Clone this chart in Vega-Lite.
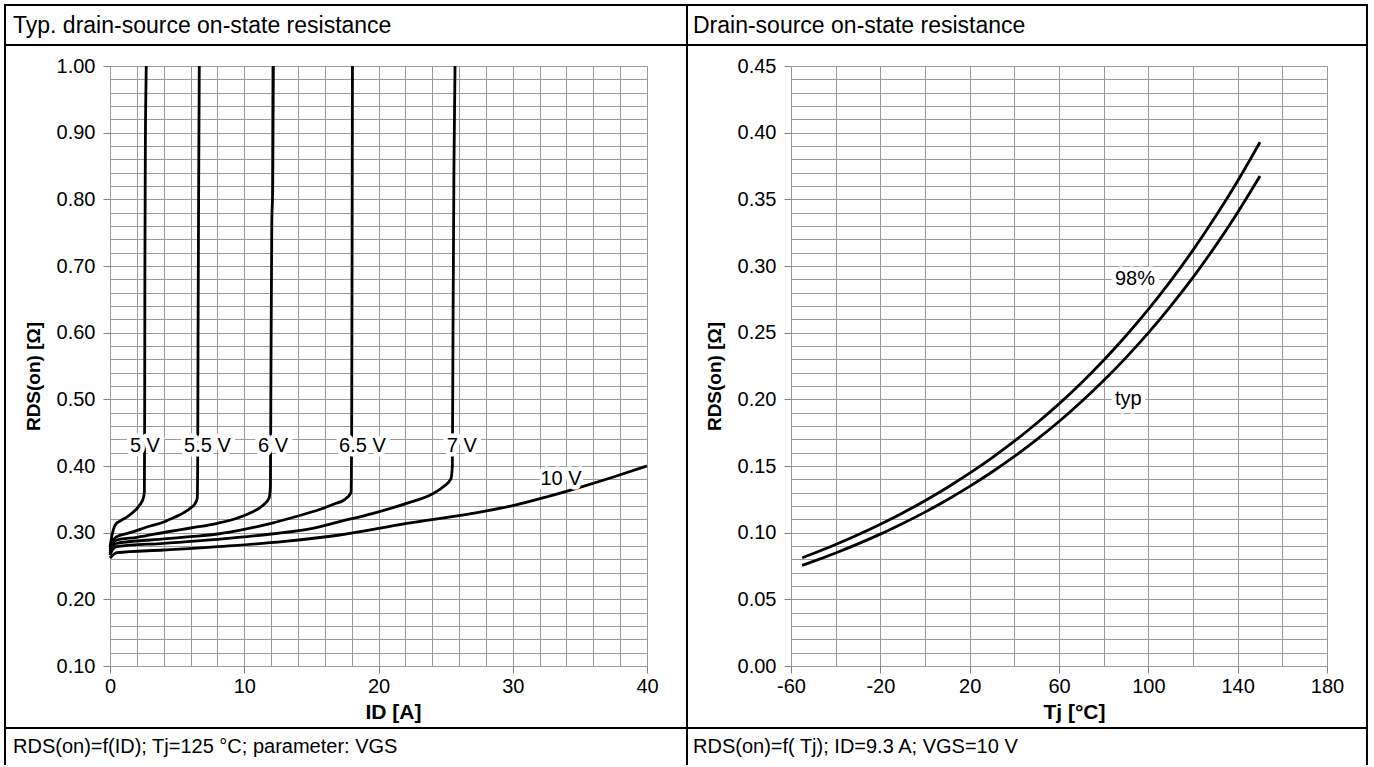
{
  "$schema": "https://vega.github.io/schema/vega-lite/v6.json",
  "background": "white",
  "padding": {"left": 3, "top": 3, "right": 0, "bottom": 0},
  "bounds": "flush",
  "spacing": 144,
  "config": {
    "view": {"stroke": null},
    "font": "Liberation Sans",
    "axis": {"labelFont": "Liberation Sans", "titleFont": "Liberation Sans", "labelColor": "black", "titleColor": "black", "gridColor": "#9a9a9a", "gridWidth": 1, "gridOpacity": 1, "tickColor": "#808080", "tickWidth": 1, "domain": false, "labelFontSize": 20, "titleFontSize": 21, "titleFontWeight": "bold", "labelOverlap": false, "labelFlush": false, "tickCount": 200}
  },
  "datasets": {
    "one": [{}],
    "idcurves": [
      {"s": "5 V", "o": 1, "id": 0, "r": 0.278}, {"s": "5 V", "o": 2, "id": 0.15, "r": 0.296}, {"s": "5 V", "o": 3, "id": 0.4, "r": 0.312}, {"s": "5 V", "o": 4, "id": 0.8, "r": 0.318}, {"s": "5 V", "o": 5, "id": 1.3, "r": 0.324}, {"s": "5 V", "o": 6, "id": 1.8, "r": 0.332}, {"s": "5 V", "o": 7, "id": 2.2, "r": 0.341}, {"s": "5 V", "o": 8, "id": 2.5, "r": 0.353}, {"s": "5 V", "o": 9, "id": 2.56, "r": 0.362}, {"s": "5 V", "o": 10, "id": 2.58, "r": 0.45}, {"s": "5 V", "o": 11, "id": 2.6, "r": 0.7}, {"s": "5 V", "o": 12, "id": 2.64, "r": 0.9}, {"s": "5 V", "o": 13, "id": 2.68, "r": 0.97}, {"s": "5 V", "o": 14, "id": 2.7, "r": 1.0},
      {"s": "5.5 V", "o": 1, "id": 0, "r": 0.275}, {"s": "5.5 V", "o": 2, "id": 0.2, "r": 0.287}, {"s": "5.5 V", "o": 3, "id": 0.5, "r": 0.294}, {"s": "5.5 V", "o": 4, "id": 1.5, "r": 0.3}, {"s": "5.5 V", "o": 5, "id": 3.0, "r": 0.31}, {"s": "5.5 V", "o": 6, "id": 4.0, "r": 0.316}, {"s": "5.5 V", "o": 7, "id": 4.8, "r": 0.323}, {"s": "5.5 V", "o": 8, "id": 5.5, "r": 0.33}, {"s": "5.5 V", "o": 9, "id": 6.0, "r": 0.337}, {"s": "5.5 V", "o": 10, "id": 6.35, "r": 0.344}, {"s": "5.5 V", "o": 11, "id": 6.5, "r": 0.352}, {"s": "5.5 V", "o": 12, "id": 6.53, "r": 0.4}, {"s": "5.5 V", "o": 13, "id": 6.56, "r": 0.6}, {"s": "5.5 V", "o": 14, "id": 6.6, "r": 0.8}, {"s": "5.5 V", "o": 15, "id": 6.63, "r": 0.92}, {"s": "5.5 V", "o": 16, "id": 6.65, "r": 1.0},
      {"s": "6 V", "o": 1, "id": 0, "r": 0.272}, {"s": "6 V", "o": 2, "id": 0.2, "r": 0.283}, {"s": "6 V", "o": 3, "id": 0.5, "r": 0.289}, {"s": "6 V", "o": 4, "id": 2, "r": 0.293}, {"s": "6 V", "o": 5, "id": 4.2, "r": 0.301}, {"s": "6 V", "o": 6, "id": 6, "r": 0.307}, {"s": "6 V", "o": 7, "id": 8, "r": 0.314}, {"s": "6 V", "o": 8, "id": 9.5, "r": 0.322}, {"s": "6 V", "o": 9, "id": 10.6, "r": 0.331}, {"s": "6 V", "o": 10, "id": 11.4, "r": 0.341}, {"s": "6 V", "o": 11, "id": 11.85, "r": 0.352}, {"s": "6 V", "o": 12, "id": 11.95, "r": 0.37}, {"s": "6 V", "o": 13, "id": 11.98, "r": 0.5}, {"s": "6 V", "o": 14, "id": 12.05, "r": 0.76}, {"s": "6 V", "o": 15, "id": 12.12, "r": 0.82}, {"s": "6 V", "o": 16, "id": 12.17, "r": 1.0},
      {"s": "6.5 V", "o": 1, "id": 0, "r": 0.269}, {"s": "6.5 V", "o": 2, "id": 0.2, "r": 0.279}, {"s": "6.5 V", "o": 3, "id": 0.5, "r": 0.284}, {"s": "6.5 V", "o": 4, "id": 3, "r": 0.289}, {"s": "6.5 V", "o": 5, "id": 6, "r": 0.294}, {"s": "6.5 V", "o": 6, "id": 8, "r": 0.298}, {"s": "6.5 V", "o": 7, "id": 10, "r": 0.305}, {"s": "6.5 V", "o": 8, "id": 12, "r": 0.314}, {"s": "6.5 V", "o": 9, "id": 14, "r": 0.325}, {"s": "6.5 V", "o": 10, "id": 15.5, "r": 0.334}, {"s": "6.5 V", "o": 11, "id": 16.7, "r": 0.343}, {"s": "6.5 V", "o": 12, "id": 17.5, "r": 0.35}, {"s": "6.5 V", "o": 13, "id": 17.95, "r": 0.36}, {"s": "6.5 V", "o": 14, "id": 18.0, "r": 0.45}, {"s": "6.5 V", "o": 15, "id": 18.03, "r": 0.7}, {"s": "6.5 V", "o": 16, "id": 18.06, "r": 1.0},
      {"s": "7 V", "o": 1, "id": 0, "r": 0.266}, {"s": "7 V", "o": 2, "id": 0.2, "r": 0.275}, {"s": "7 V", "o": 3, "id": 0.5, "r": 0.279}, {"s": "7 V", "o": 4, "id": 4, "r": 0.284}, {"s": "7 V", "o": 5, "id": 8, "r": 0.29}, {"s": "7 V", "o": 6, "id": 12, "r": 0.298}, {"s": "7 V", "o": 7, "id": 15, "r": 0.306}, {"s": "7 V", "o": 8, "id": 17.1, "r": 0.3165}, {"s": "7 V", "o": 9, "id": 19.6, "r": 0.329}, {"s": "7 V", "o": 10, "id": 22.1, "r": 0.344}, {"s": "7 V", "o": 11, "id": 24.0, "r": 0.358}, {"s": "7 V", "o": 12, "id": 24.9, "r": 0.37}, {"s": "7 V", "o": 13, "id": 25.4, "r": 0.381}, {"s": "7 V", "o": 14, "id": 25.5, "r": 0.4}, {"s": "7 V", "o": 15, "id": 25.55, "r": 0.6}, {"s": "7 V", "o": 16, "id": 25.62, "r": 0.85}, {"s": "7 V", "o": 17, "id": 25.7, "r": 1.0},
      {"s": "10 V", "o": 1, "id": 0, "r": 0.262}, {"s": "10 V", "o": 2, "id": 0.2, "r": 0.266}, {"s": "10 V", "o": 3, "id": 0.5, "r": 0.27}, {"s": "10 V", "o": 4, "id": 4, "r": 0.274}, {"s": "10 V", "o": 5, "id": 9.2, "r": 0.2805}, {"s": "10 V", "o": 6, "id": 13, "r": 0.287}, {"s": "10 V", "o": 7, "id": 17.1, "r": 0.2965}, {"s": "10 V", "o": 8, "id": 22.1, "r": 0.314}, {"s": "10 V", "o": 9, "id": 27, "r": 0.329}, {"s": "10 V", "o": 10, "id": 30, "r": 0.3405}, {"s": "10 V", "o": 11, "id": 32.5, "r": 0.3535}, {"s": "10 V", "o": 12, "id": 35, "r": 0.368}, {"s": "10 V", "o": 13, "id": 37.5, "r": 0.3835}, {"s": "10 V", "o": 14, "id": 40, "r": 0.4}
    ],
    "idlabels": [
      {"t": "5 V", "id": 2.6, "r": 0.4305},
      {"t": "5.5 V", "id": 7.26, "r": 0.4305},
      {"t": "6 V", "id": 12.15, "r": 0.4305},
      {"t": "6.5 V", "id": 18.8, "r": 0.4305},
      {"t": "7 V", "id": 26.2, "r": 0.4305},
      {"t": "10 V", "id": 33.6, "r": 0.3805}
    ],
    "tjcurves": [
      {"s": "98%", "tj": -55, "r": 0.0812}, {"s": "98%", "tj": -50, "r": 0.0844}, {"s": "98%", "tj": -40, "r": 0.0911}, {"s": "98%", "tj": -30, "r": 0.0984}, {"s": "98%", "tj": -20, "r": 0.1063}, {"s": "98%", "tj": -10, "r": 0.1148}, {"s": "98%", "tj": 0, "r": 0.124}, {"s": "98%", "tj": 10, "r": 0.1339}, {"s": "98%", "tj": 20, "r": 0.1446}, {"s": "98%", "tj": 30, "r": 0.1561}, {"s": "98%", "tj": 40, "r": 0.1686}, {"s": "98%", "tj": 50, "r": 0.1821}, {"s": "98%", "tj": 60, "r": 0.1966}, {"s": "98%", "tj": 70, "r": 0.2123}, {"s": "98%", "tj": 80, "r": 0.2293}, {"s": "98%", "tj": 90, "r": 0.2477}, {"s": "98%", "tj": 100, "r": 0.2674}, {"s": "98%", "tj": 110, "r": 0.2888}, {"s": "98%", "tj": 120, "r": 0.3119}, {"s": "98%", "tj": 130, "r": 0.3369}, {"s": "98%", "tj": 140, "r": 0.3638}, {"s": "98%", "tj": 150, "r": 0.3928},
      {"s": "typ", "tj": -55, "r": 0.0755}, {"s": "typ", "tj": -50, "r": 0.0785}, {"s": "typ", "tj": -40, "r": 0.0848}, {"s": "typ", "tj": -30, "r": 0.0916}, {"s": "typ", "tj": -20, "r": 0.0989}, {"s": "typ", "tj": -10, "r": 0.1069}, {"s": "typ", "tj": 0, "r": 0.1154}, {"s": "typ", "tj": 10, "r": 0.1247}, {"s": "typ", "tj": 20, "r": 0.1347}, {"s": "typ", "tj": 30, "r": 0.1455}, {"s": "typ", "tj": 40, "r": 0.1572}, {"s": "typ", "tj": 50, "r": 0.1698}, {"s": "typ", "tj": 60, "r": 0.1834}, {"s": "typ", "tj": 70, "r": 0.1982}, {"s": "typ", "tj": 80, "r": 0.2141}, {"s": "typ", "tj": 90, "r": 0.2313}, {"s": "typ", "tj": 100, "r": 0.2498}, {"s": "typ", "tj": 110, "r": 0.2699}, {"s": "typ", "tj": 120, "r": 0.2915}, {"s": "typ", "tj": 130, "r": 0.3149}, {"s": "typ", "tj": 140, "r": 0.3402}, {"s": "typ", "tj": 150, "r": 0.3675}
    ],
    "tjlabels": [
      {"t": "98%", "tj": 94.0, "r": 0.29},
      {"t": "typ", "tj": 91.0, "r": 0.2003}
    ]
  },
  "hconcat": [
    {
      "width": 537,
      "height": 600,
      "layer": [
        {
          "data": {"name": "idcurves"},
          "mark": {"type": "line", "color": "black", "strokeWidth": 2.8, "interpolate": "monotone"},
          "encoding": {
            "x": {"field": "id", "type": "quantitative", "scale": {"domain": [0, 40], "nice": false, "zero": false},
              "axis": {"title": "ID [A]", "values": [0,2,4,6,8,10,12,14,16,18,20,22,24,26,28,30,32,34,36,38,40], "tickCount": 200, "grid": true, "tickSize": 7,
                "tickOpacity": {"condition": {"test": "datum.value % 10 === 0", "value": 1}, "value": 0},
                "labelExpr": "datum.value % 10 === 0 ? '' + datum.value : ''", "labelPadding": 3,
                "titleX": 283, "titleY": 52, "titleBaseline": "alphabetic", "titleAlign": "center"}},
            "y": {"field": "r", "type": "quantitative", "scale": {"domain": [0.1, 1.0], "nice": false, "zero": false},
              "axis": {"title": "RDS(on) [Ω]", "values": [0.1,0.12,0.14,0.16,0.18,0.2,0.22,0.24,0.26,0.28,0.3,0.32,0.34,0.36,0.38,0.4,0.42,0.44,0.46,0.48,0.5,0.52,0.54,0.56,0.58,0.6,0.62,0.64,0.66,0.68,0.7,0.72,0.74,0.76,0.78,0.8,0.82,0.84,0.86,0.88,0.9,0.92,0.94,0.96,0.98,1.0], "tickCount": 200, "grid": true, "tickSize": 7,
                "tickOpacity": {"condition": {"test": "round(datum.value*100) % 10 === 0", "value": 1}, "value": 0},
                "labelExpr": "round(datum.value*100) % 10 === 0 ? format(datum.value, '.2f') : ''", "labelPadding": 8,
                "titleFontSize": 19, "titleAngle": 270, "titleX": -71, "titleY": 310, "titleBaseline": "alphabetic", "titleAlign": "center"}},
            "detail": {"field": "s"},
            "order": {"field": "o"}
          }
        },
        {
          "data": {"name": "idlabels"},
          "mark": {"type": "text", "fontSize": 20, "stroke": "white", "strokeWidth": 9, "strokeJoin": "round", "fill": "white", "align": "center", "baseline": "middle"},
          "encoding": {
            "x": {"field": "id", "type": "quantitative", "scale": {"domain": [0, 40], "nice": false, "zero": false}},
            "y": {"field": "r", "type": "quantitative", "scale": {"domain": [0.1, 1.0], "nice": false, "zero": false}},
            "text": {"field": "t"}
          }
        },
        {
          "data": {"name": "idlabels"},
          "mark": {"type": "text", "fontSize": 20, "fill": "black", "align": "center", "baseline": "middle"},
          "encoding": {
            "x": {"field": "id", "type": "quantitative", "scale": {"domain": [0, 40], "nice": false, "zero": false}},
            "y": {"field": "r", "type": "quantitative", "scale": {"domain": [0.1, 1.0], "nice": false, "zero": false}},
            "text": {"field": "t"}
          }
        },
        {
          "data": {"name": "one"},
          "mark": {"type": "rule", "color": "black", "strokeWidth": 2, "strokeCap": "square"},
          "encoding": {
            "x": {"datum": -7.821, "type": "quantitative", "scale": {"domain": [0, 40], "nice": false, "zero": false}},
            "y": {"datum": 1.0915, "type": "quantitative", "scale": {"domain": [0.1, 1.0], "nice": false, "zero": false}},
            "y2": {"datum": -0.047}
          }
        },
        {
          "data": {"name": "one"},
          "mark": {"type": "rule", "color": "black", "strokeWidth": 2, "strokeCap": "square"},
          "encoding": {
            "x": {"datum": 42.98, "type": "quantitative", "scale": {"domain": [0, 40], "nice": false, "zero": false}},
            "y": {"datum": 1.0915, "type": "quantitative", "scale": {"domain": [0.1, 1.0], "nice": false, "zero": false}},
            "y2": {"datum": -0.047}
          }
        },
        {
          "data": {"name": "one"},
          "mark": {"type": "rule", "color": "black", "strokeWidth": 2, "strokeCap": "square"},
          "encoding": {
            "x": {"datum": -7.821, "type": "quantitative", "scale": {"domain": [0, 40], "nice": false, "zero": false}},
            "x2": {"datum": 42.98},
            "y": {"datum": 1.0915, "type": "quantitative", "scale": {"domain": [0.1, 1.0], "nice": false, "zero": false}}
          }
        },
        {
          "data": {"name": "one"},
          "mark": {"type": "rule", "color": "black", "strokeWidth": 2, "strokeCap": "square"},
          "encoding": {
            "x": {"datum": -7.821, "type": "quantitative", "scale": {"domain": [0, 40], "nice": false, "zero": false}},
            "x2": {"datum": 42.98},
            "y": {"datum": 1.0315, "type": "quantitative", "scale": {"domain": [0.1, 1.0], "nice": false, "zero": false}}
          }
        },
        {
          "data": {"name": "one"},
          "mark": {"type": "rule", "color": "black", "strokeWidth": 2, "strokeCap": "square"},
          "encoding": {
            "x": {"datum": -7.821, "type": "quantitative", "scale": {"domain": [0, 40], "nice": false, "zero": false}},
            "x2": {"datum": 42.98},
            "y": {"datum": 0.007, "type": "quantitative", "scale": {"domain": [0.1, 1.0], "nice": false, "zero": false}}
          }
        },
        {
          "data": {"name": "one"},
          "mark": {"type": "text", "text": "Typ. drain-source on-state resistance", "fontSize": 23, "fill": "black", "align": "left", "baseline": "alphabetic"},
          "encoding": {
            "x": {"datum": -7.225, "type": "quantitative", "scale": {"domain": [0, 40], "nice": false, "zero": false}},
            "y": {"datum": 1.0495, "type": "quantitative", "scale": {"domain": [0.1, 1.0], "nice": false, "zero": false}}
          }
        },
        {
          "data": {"name": "one"},
          "mark": {"type": "text", "text": "RDS(on)=f(ID);  Tj=125 °C; parameter:  VGS", "fontSize": 20, "fill": "black", "align": "left", "baseline": "alphabetic"},
          "encoding": {
            "x": {"datum": -7.225, "type": "quantitative", "scale": {"domain": [0, 40], "nice": false, "zero": false}},
            "y": {"datum": -0.0305, "type": "quantitative", "scale": {"domain": [0.1, 1.0], "nice": false, "zero": false}}
          }
        }
      ]
    },
    {
      "width": 536,
      "height": 600,
      "layer": [
        {
          "data": {"name": "tjcurves"},
          "mark": {"type": "line", "color": "black", "strokeWidth": 2.8, "interpolate": "monotone"},
          "encoding": {
            "x": {"field": "tj", "type": "quantitative", "scale": {"domain": [-60, 180], "nice": false, "zero": false},
              "axis": {"title": "Tj [°C]", "values": [-60,-40,-20,0,20,40,60,80,100,120,140,160,180], "tickCount": 200, "grid": true, "tickSize": 7,
                "tickOpacity": {"condition": {"test": "(datum.value + 60) % 40 === 0", "value": 1}, "value": 0},
                "labelExpr": "(datum.value + 60) % 40 === 0 ? '' + datum.value : ''", "labelPadding": 3,
                "titleX": 283, "titleY": 52, "titleBaseline": "alphabetic", "titleAlign": "center"}},
            "y": {"field": "r", "type": "quantitative", "scale": {"domain": [0, 0.45], "nice": false, "zero": false},
              "axis": {"title": "RDS(on) [Ω]", "values": [0,0.01,0.02,0.03,0.04,0.05,0.06,0.07,0.08,0.09,0.1,0.11,0.12,0.13,0.14,0.15,0.16,0.17,0.18,0.19,0.2,0.21,0.22,0.23,0.24,0.25,0.26,0.27,0.28,0.29,0.3,0.31,0.32,0.33,0.34,0.35,0.36,0.37,0.38,0.39,0.4,0.41,0.42,0.43,0.44,0.45], "tickCount": 200, "grid": true, "tickSize": 7,
                "tickOpacity": {"condition": {"test": "round(datum.value*100) % 5 === 0", "value": 1}, "value": 0},
                "labelExpr": "round(datum.value*100) % 5 === 0 ? format(datum.value, '.2f') : ''", "labelPadding": 8,
                "titleFontSize": 19, "titleAngle": 270, "titleX": -71, "titleY": 310, "titleBaseline": "alphabetic", "titleAlign": "center"}},
            "detail": {"field": "s"}
          }
        },
        {
          "data": {"name": "tjlabels"},
          "mark": {"type": "text", "fontSize": 20, "stroke": "white", "strokeWidth": 9, "strokeJoin": "round", "fill": "white", "align": "center", "baseline": "middle"},
          "encoding": {
            "x": {"field": "tj", "type": "quantitative", "scale": {"domain": [-60, 180], "nice": false, "zero": false}},
            "y": {"field": "r", "type": "quantitative", "scale": {"domain": [0, 0.45], "nice": false, "zero": false}},
            "text": {"field": "t"}
          }
        },
        {
          "data": {"name": "tjlabels"},
          "mark": {"type": "text", "fontSize": 20, "fill": "black", "align": "center", "baseline": "middle"},
          "encoding": {
            "x": {"field": "tj", "type": "quantitative", "scale": {"domain": [-60, 180], "nice": false, "zero": false}},
            "y": {"field": "r", "type": "quantitative", "scale": {"domain": [0, 0.45], "nice": false, "zero": false}},
            "text": {"field": "t"}
          }
        },
        {
          "data": {"name": "one"},
          "mark": {"type": "rule", "color": "black", "strokeWidth": 2, "strokeCap": "square"},
          "encoding": {
            "x": {"datum": 197.9, "type": "quantitative", "scale": {"domain": [-60, 180], "nice": false, "zero": false}},
            "y": {"datum": 0.4958, "type": "quantitative", "scale": {"domain": [0, 0.45], "nice": false, "zero": false}},
            "y2": {"datum": -0.0735}
          }
        },
        {
          "data": {"name": "one"},
          "mark": {"type": "rule", "color": "black", "strokeWidth": 2, "strokeCap": "square"},
          "encoding": {
            "x": {"datum": -106.57, "type": "quantitative", "scale": {"domain": [-60, 180], "nice": false, "zero": false}},
            "x2": {"datum": 197.9},
            "y": {"datum": 0.4958, "type": "quantitative", "scale": {"domain": [0, 0.45], "nice": false, "zero": false}}
          }
        },
        {
          "data": {"name": "one"},
          "mark": {"type": "rule", "color": "black", "strokeWidth": 2, "strokeCap": "square"},
          "encoding": {
            "x": {"datum": -106.57, "type": "quantitative", "scale": {"domain": [-60, 180], "nice": false, "zero": false}},
            "x2": {"datum": 197.9},
            "y": {"datum": 0.4658, "type": "quantitative", "scale": {"domain": [0, 0.45], "nice": false, "zero": false}}
          }
        },
        {
          "data": {"name": "one"},
          "mark": {"type": "rule", "color": "black", "strokeWidth": 2, "strokeCap": "square"},
          "encoding": {
            "x": {"datum": -106.57, "type": "quantitative", "scale": {"domain": [-60, 180], "nice": false, "zero": false}},
            "x2": {"datum": 197.9},
            "y": {"datum": -0.0465, "type": "quantitative", "scale": {"domain": [0, 0.45], "nice": false, "zero": false}}
          }
        },
        {
          "data": {"name": "one"},
          "mark": {"type": "text", "text": "Drain-source on-state resistance", "fontSize": 23, "fill": "black", "align": "left", "baseline": "alphabetic"},
          "encoding": {
            "x": {"datum": -103.88, "type": "quantitative", "scale": {"domain": [-60, 180], "nice": false, "zero": false}},
            "y": {"datum": 0.4748, "type": "quantitative", "scale": {"domain": [0, 0.45], "nice": false, "zero": false}}
          }
        },
        {
          "data": {"name": "one"},
          "mark": {"type": "text", "text": "RDS(on)=f( Tj); ID=9.3 A; VGS=10 V", "fontSize": 20, "fill": "black", "align": "left", "baseline": "alphabetic"},
          "encoding": {
            "x": {"datum": -103.88, "type": "quantitative", "scale": {"domain": [-60, 180], "nice": false, "zero": false}},
            "y": {"datum": -0.06525, "type": "quantitative", "scale": {"domain": [0, 0.45], "nice": false, "zero": false}}
          }
        }
      ]
    }
  ]
}
